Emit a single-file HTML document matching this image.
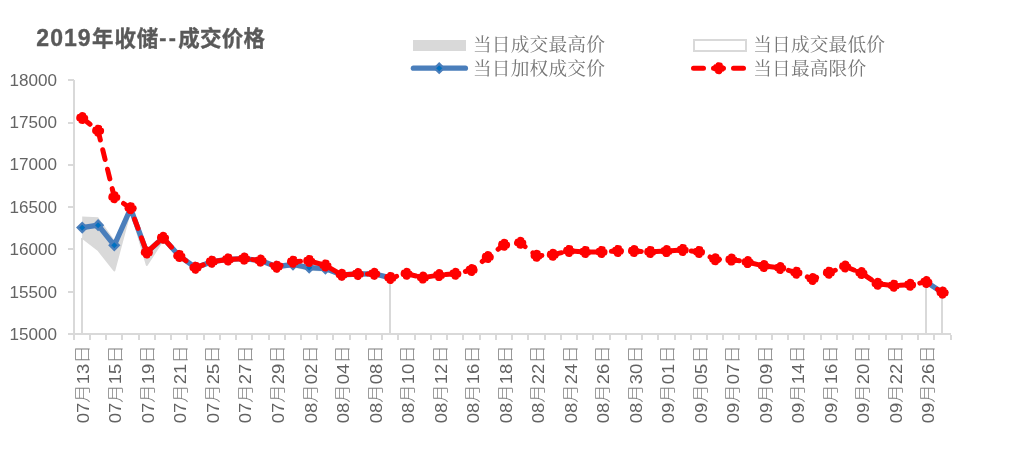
<!DOCTYPE html>
<html lang="zh"><head><meta charset="utf-8"><title>2019年收储--成交价格</title>
<style>html,body{margin:0;padding:0;background:#fff}body{width:1014px;height:452px;overflow:hidden}svg{display:block}text{font-family:"Liberation Sans","Noto Sans CJK SC",sans-serif;fill:#595959}.lg{font-family:"Liberation Serif","Noto Serif CJK SC",serif;font-size:18.67px;letter-spacing:0.2px;fill:#767676}.ax{font-size:17px;fill:#646464}.xl{font-size:16px;font-weight:300;fill:#808080}.d{font-size:16px;font-weight:400;fill:#626262}.tt{font-weight:700;font-size:21.5px;stroke:#595959;stroke-width:0.35px}.cr{shape-rendering:crispEdges;fill:#d9d9d9}</style></head><body>
<svg width="1014" height="452" viewBox="0 0 1014 452">
<rect width="1014" height="452" fill="#fff"/>
<polygon points="82.2,216.4 98.1,217.2 114.3,240.0 130.6,206.5 146.8,251.4 163.0,236.8 179.3,254.9 195.5,266.7 211.8,260.7 228.0,258.4 244.2,257.6 260.5,259.6 276.7,265.7 293.0,263.5 309.2,266.6 325.4,267.5 341.7,273.8 357.9,273.0 374.2,272.8 390.4,276.9 390.4,334.0 82.2,334.0" fill="#d9d9d9"/>
<polygon points="82.2,237.8 98.1,249.9 114.3,270.5 130.6,209.5 146.8,265.0 163.0,240.0 179.3,256.9 195.5,268.7 211.8,262.7 228.0,260.4 244.2,259.6 260.5,261.6 276.7,267.7 293.0,266.5 309.2,269.8 325.4,270.5 341.7,275.8 357.9,275.0 374.2,274.8 390.4,278.9 390.4,334.0 82.2,334.0" fill="#fff"/>
<polyline points="82.2,237.8 98.1,249.9 114.3,270.5 130.6,209.5 146.8,265.0 163.0,240.0 179.3,256.9 195.5,268.7 211.8,262.7 228.0,260.4 244.2,259.6 260.5,261.6 276.7,267.7 293.0,266.5 309.2,269.8 325.4,270.5 341.7,275.8 357.9,275.0 374.2,274.8 390.4,278.9" fill="none" stroke="#d9d9d9" stroke-width="2" stroke-linejoin="round"/>
<g class="cr">
<rect x="73" y="80" width="2" height="255"/>
<rect x="68" y="333" width="883" height="2"/>
<rect x="68" y="79" width="6" height="2"/>
<rect x="68" y="122" width="6" height="2"/>
<rect x="68" y="164" width="6" height="2"/>
<rect x="68" y="206" width="6" height="2"/>
<rect x="68" y="248" width="6" height="2"/>
<rect x="68" y="291" width="6" height="2"/>
<rect x="73" y="335" width="2" height="5"/>
<rect x="89" y="335" width="2" height="5"/>
<rect x="105" y="335" width="2" height="5"/>
<rect x="121" y="335" width="2" height="5"/>
<rect x="138" y="335" width="2" height="5"/>
<rect x="154" y="335" width="2" height="5"/>
<rect x="170" y="335" width="2" height="5"/>
<rect x="186" y="335" width="2" height="5"/>
<rect x="203" y="335" width="2" height="5"/>
<rect x="219" y="335" width="2" height="5"/>
<rect x="235" y="335" width="2" height="5"/>
<rect x="251" y="335" width="2" height="5"/>
<rect x="268" y="335" width="2" height="5"/>
<rect x="284" y="335" width="2" height="5"/>
<rect x="300" y="335" width="2" height="5"/>
<rect x="316" y="335" width="2" height="5"/>
<rect x="332" y="335" width="2" height="5"/>
<rect x="349" y="335" width="2" height="5"/>
<rect x="365" y="335" width="2" height="5"/>
<rect x="381" y="335" width="2" height="5"/>
<rect x="397" y="335" width="2" height="5"/>
<rect x="414" y="335" width="2" height="5"/>
<rect x="430" y="335" width="2" height="5"/>
<rect x="446" y="335" width="2" height="5"/>
<rect x="462" y="335" width="2" height="5"/>
<rect x="479" y="335" width="2" height="5"/>
<rect x="495" y="335" width="2" height="5"/>
<rect x="511" y="335" width="2" height="5"/>
<rect x="527" y="335" width="2" height="5"/>
<rect x="544" y="335" width="2" height="5"/>
<rect x="560" y="335" width="2" height="5"/>
<rect x="576" y="335" width="2" height="5"/>
<rect x="592" y="335" width="2" height="5"/>
<rect x="609" y="335" width="2" height="5"/>
<rect x="625" y="335" width="2" height="5"/>
<rect x="641" y="335" width="2" height="5"/>
<rect x="657" y="335" width="2" height="5"/>
<rect x="674" y="335" width="2" height="5"/>
<rect x="690" y="335" width="2" height="5"/>
<rect x="706" y="335" width="2" height="5"/>
<rect x="722" y="335" width="2" height="5"/>
<rect x="738" y="335" width="2" height="5"/>
<rect x="755" y="335" width="2" height="5"/>
<rect x="771" y="335" width="2" height="5"/>
<rect x="787" y="335" width="2" height="5"/>
<rect x="803" y="335" width="2" height="5"/>
<rect x="820" y="335" width="2" height="5"/>
<rect x="836" y="335" width="2" height="5"/>
<rect x="852" y="335" width="2" height="5"/>
<rect x="868" y="335" width="2" height="5"/>
<rect x="885" y="335" width="2" height="5"/>
<rect x="901" y="335" width="2" height="5"/>
<rect x="917" y="335" width="2" height="5"/>
<rect x="933" y="335" width="2" height="5"/>
<rect x="950" y="335" width="2" height="5"/>
<rect x="81" y="238" width="2" height="95"/>
<rect x="389" y="279" width="2" height="54"/>
<rect x="925" y="282" width="2" height="51"/>
<rect x="941" y="293" width="2" height="40"/>
</g>
<text class="ax" x="57" y="86.0" text-anchor="end" textLength="47.5" lengthAdjust="spacingAndGlyphs">18000</text>
<text class="ax" x="57" y="128.2" text-anchor="end" textLength="47.5" lengthAdjust="spacingAndGlyphs">17500</text>
<text class="ax" x="57" y="170.2" text-anchor="end" textLength="47.5" lengthAdjust="spacingAndGlyphs">17000</text>
<text class="ax" x="57" y="212.9" text-anchor="end" textLength="47.5" lengthAdjust="spacingAndGlyphs">16500</text>
<text class="ax" x="57" y="254.9" text-anchor="end" textLength="47.5" lengthAdjust="spacingAndGlyphs">16000</text>
<text class="ax" x="57" y="297.9" text-anchor="end" textLength="47.5" lengthAdjust="spacingAndGlyphs">15500</text>
<text class="ax" x="57" y="339.9" text-anchor="end" textLength="47.5" lengthAdjust="spacingAndGlyphs">15000</text>
<text class="xl" transform="translate(88.5,423.2) rotate(-90)" textLength="78" lengthAdjust="spacingAndGlyphs"><tspan class="d" dy="0.4">07</tspan><tspan dy="-0.8">月</tspan><tspan class="d" dy="0.8">13</tspan><tspan dy="-0.8">日</tspan></text>
<text class="xl" transform="translate(121.0,423.2) rotate(-90)" textLength="78" lengthAdjust="spacingAndGlyphs"><tspan class="d" dy="0.4">07</tspan><tspan dy="-0.8">月</tspan><tspan class="d" dy="0.8">15</tspan><tspan dy="-0.8">日</tspan></text>
<text class="xl" transform="translate(153.5,423.2) rotate(-90)" textLength="78" lengthAdjust="spacingAndGlyphs"><tspan class="d" dy="0.4">07</tspan><tspan dy="-0.8">月</tspan><tspan class="d" dy="0.8">19</tspan><tspan dy="-0.8">日</tspan></text>
<text class="xl" transform="translate(186.0,423.2) rotate(-90)" textLength="78" lengthAdjust="spacingAndGlyphs"><tspan class="d" dy="0.4">07</tspan><tspan dy="-0.8">月</tspan><tspan class="d" dy="0.8">21</tspan><tspan dy="-0.8">日</tspan></text>
<text class="xl" transform="translate(218.5,423.2) rotate(-90)" textLength="78" lengthAdjust="spacingAndGlyphs"><tspan class="d" dy="0.4">07</tspan><tspan dy="-0.8">月</tspan><tspan class="d" dy="0.8">25</tspan><tspan dy="-0.8">日</tspan></text>
<text class="xl" transform="translate(251.0,423.2) rotate(-90)" textLength="78" lengthAdjust="spacingAndGlyphs"><tspan class="d" dy="0.4">07</tspan><tspan dy="-0.8">月</tspan><tspan class="d" dy="0.8">27</tspan><tspan dy="-0.8">日</tspan></text>
<text class="xl" transform="translate(283.6,423.2) rotate(-90)" textLength="78" lengthAdjust="spacingAndGlyphs"><tspan class="d" dy="0.4">07</tspan><tspan dy="-0.8">月</tspan><tspan class="d" dy="0.8">29</tspan><tspan dy="-0.8">日</tspan></text>
<text class="xl" transform="translate(316.1,423.2) rotate(-90)" textLength="78" lengthAdjust="spacingAndGlyphs"><tspan class="d" dy="0.4">08</tspan><tspan dy="-0.8">月</tspan><tspan class="d" dy="0.8">02</tspan><tspan dy="-0.8">日</tspan></text>
<text class="xl" transform="translate(348.6,423.2) rotate(-90)" textLength="78" lengthAdjust="spacingAndGlyphs"><tspan class="d" dy="0.4">08</tspan><tspan dy="-0.8">月</tspan><tspan class="d" dy="0.8">04</tspan><tspan dy="-0.8">日</tspan></text>
<text class="xl" transform="translate(381.1,423.2) rotate(-90)" textLength="78" lengthAdjust="spacingAndGlyphs"><tspan class="d" dy="0.4">08</tspan><tspan dy="-0.8">月</tspan><tspan class="d" dy="0.8">08</tspan><tspan dy="-0.8">日</tspan></text>
<text class="xl" transform="translate(413.6,423.2) rotate(-90)" textLength="78" lengthAdjust="spacingAndGlyphs"><tspan class="d" dy="0.4">08</tspan><tspan dy="-0.8">月</tspan><tspan class="d" dy="0.8">10</tspan><tspan dy="-0.8">日</tspan></text>
<text class="xl" transform="translate(446.1,423.2) rotate(-90)" textLength="78" lengthAdjust="spacingAndGlyphs"><tspan class="d" dy="0.4">08</tspan><tspan dy="-0.8">月</tspan><tspan class="d" dy="0.8">12</tspan><tspan dy="-0.8">日</tspan></text>
<text class="xl" transform="translate(478.6,423.2) rotate(-90)" textLength="78" lengthAdjust="spacingAndGlyphs"><tspan class="d" dy="0.4">08</tspan><tspan dy="-0.8">月</tspan><tspan class="d" dy="0.8">16</tspan><tspan dy="-0.8">日</tspan></text>
<text class="xl" transform="translate(511.1,423.2) rotate(-90)" textLength="78" lengthAdjust="spacingAndGlyphs"><tspan class="d" dy="0.4">08</tspan><tspan dy="-0.8">月</tspan><tspan class="d" dy="0.8">18</tspan><tspan dy="-0.8">日</tspan></text>
<text class="xl" transform="translate(543.6,423.2) rotate(-90)" textLength="78" lengthAdjust="spacingAndGlyphs"><tspan class="d" dy="0.4">08</tspan><tspan dy="-0.8">月</tspan><tspan class="d" dy="0.8">22</tspan><tspan dy="-0.8">日</tspan></text>
<text class="xl" transform="translate(576.1,423.2) rotate(-90)" textLength="78" lengthAdjust="spacingAndGlyphs"><tspan class="d" dy="0.4">08</tspan><tspan dy="-0.8">月</tspan><tspan class="d" dy="0.8">24</tspan><tspan dy="-0.8">日</tspan></text>
<text class="xl" transform="translate(608.7,423.2) rotate(-90)" textLength="78" lengthAdjust="spacingAndGlyphs"><tspan class="d" dy="0.4">08</tspan><tspan dy="-0.8">月</tspan><tspan class="d" dy="0.8">26</tspan><tspan dy="-0.8">日</tspan></text>
<text class="xl" transform="translate(641.2,423.2) rotate(-90)" textLength="78" lengthAdjust="spacingAndGlyphs"><tspan class="d" dy="0.4">08</tspan><tspan dy="-0.8">月</tspan><tspan class="d" dy="0.8">30</tspan><tspan dy="-0.8">日</tspan></text>
<text class="xl" transform="translate(673.7,423.2) rotate(-90)" textLength="78" lengthAdjust="spacingAndGlyphs"><tspan class="d" dy="0.4">09</tspan><tspan dy="-0.8">月</tspan><tspan class="d" dy="0.8">01</tspan><tspan dy="-0.8">日</tspan></text>
<text class="xl" transform="translate(706.2,423.2) rotate(-90)" textLength="78" lengthAdjust="spacingAndGlyphs"><tspan class="d" dy="0.4">09</tspan><tspan dy="-0.8">月</tspan><tspan class="d" dy="0.8">05</tspan><tspan dy="-0.8">日</tspan></text>
<text class="xl" transform="translate(738.7,423.2) rotate(-90)" textLength="78" lengthAdjust="spacingAndGlyphs"><tspan class="d" dy="0.4">09</tspan><tspan dy="-0.8">月</tspan><tspan class="d" dy="0.8">07</tspan><tspan dy="-0.8">日</tspan></text>
<text class="xl" transform="translate(771.2,423.2) rotate(-90)" textLength="78" lengthAdjust="spacingAndGlyphs"><tspan class="d" dy="0.4">09</tspan><tspan dy="-0.8">月</tspan><tspan class="d" dy="0.8">09</tspan><tspan dy="-0.8">日</tspan></text>
<text class="xl" transform="translate(803.7,423.2) rotate(-90)" textLength="78" lengthAdjust="spacingAndGlyphs"><tspan class="d" dy="0.4">09</tspan><tspan dy="-0.8">月</tspan><tspan class="d" dy="0.8">14</tspan><tspan dy="-0.8">日</tspan></text>
<text class="xl" transform="translate(836.2,423.2) rotate(-90)" textLength="78" lengthAdjust="spacingAndGlyphs"><tspan class="d" dy="0.4">09</tspan><tspan dy="-0.8">月</tspan><tspan class="d" dy="0.8">16</tspan><tspan dy="-0.8">日</tspan></text>
<text class="xl" transform="translate(868.7,423.2) rotate(-90)" textLength="78" lengthAdjust="spacingAndGlyphs"><tspan class="d" dy="0.4">09</tspan><tspan dy="-0.8">月</tspan><tspan class="d" dy="0.8">20</tspan><tspan dy="-0.8">日</tspan></text>
<text class="xl" transform="translate(901.2,423.2) rotate(-90)" textLength="78" lengthAdjust="spacingAndGlyphs"><tspan class="d" dy="0.4">09</tspan><tspan dy="-0.8">月</tspan><tspan class="d" dy="0.8">22</tspan><tspan dy="-0.8">日</tspan></text>
<text class="xl" transform="translate(933.8,423.2) rotate(-90)" textLength="78" lengthAdjust="spacingAndGlyphs"><tspan class="d" dy="0.4">09</tspan><tspan dy="-0.8">月</tspan><tspan class="d" dy="0.8">26</tspan><tspan dy="-0.8">日</tspan></text>
<polyline points="82.2,227.6 98.1,225.2 114.3,245.3 130.6,208.5 146.8,252.4 163.0,237.8 179.3,255.9 195.5,267.7 211.8,261.7 228.0,259.4 244.2,258.6 260.5,260.6 276.7,266.7 293.0,264.5 309.2,267.6 325.4,268.5 341.7,274.8 357.9,274.0 374.2,273.8 390.4,277.9" fill="none" stroke="#4a7ebb" stroke-width="5.3" stroke-linejoin="round" stroke-linecap="round"/>
<polyline points="926.3,282.0 942.6,292.6" fill="none" stroke="#4a7ebb" stroke-width="5.3" stroke-linejoin="round" stroke-linecap="round"/>
<path d="M82.2 223.0l4.6 4.6l-4.6 4.6l-4.6 -4.6z" fill="#0070c0" stroke="#4a7ebb" stroke-width="2.2"/>
<path d="M98.1 220.6l4.6 4.6l-4.6 4.6l-4.6 -4.6z" fill="#0070c0" stroke="#4a7ebb" stroke-width="2.2"/>
<path d="M114.3 240.7l4.6 4.6l-4.6 4.6l-4.6 -4.6z" fill="#0070c0" stroke="#4a7ebb" stroke-width="2.2"/>
<path d="M130.6 203.9l4.6 4.6l-4.6 4.6l-4.6 -4.6z" fill="#0070c0" stroke="#4a7ebb" stroke-width="2.2"/>
<path d="M146.8 247.8l4.6 4.6l-4.6 4.6l-4.6 -4.6z" fill="#0070c0" stroke="#4a7ebb" stroke-width="2.2"/>
<path d="M163.0 233.2l4.6 4.6l-4.6 4.6l-4.6 -4.6z" fill="#0070c0" stroke="#4a7ebb" stroke-width="2.2"/>
<path d="M179.3 251.3l4.6 4.6l-4.6 4.6l-4.6 -4.6z" fill="#0070c0" stroke="#4a7ebb" stroke-width="2.2"/>
<path d="M195.5 263.1l4.6 4.6l-4.6 4.6l-4.6 -4.6z" fill="#0070c0" stroke="#4a7ebb" stroke-width="2.2"/>
<path d="M211.8 257.1l4.6 4.6l-4.6 4.6l-4.6 -4.6z" fill="#0070c0" stroke="#4a7ebb" stroke-width="2.2"/>
<path d="M228.0 254.8l4.6 4.6l-4.6 4.6l-4.6 -4.6z" fill="#0070c0" stroke="#4a7ebb" stroke-width="2.2"/>
<path d="M244.2 254.0l4.6 4.6l-4.6 4.6l-4.6 -4.6z" fill="#0070c0" stroke="#4a7ebb" stroke-width="2.2"/>
<path d="M260.5 256.0l4.6 4.6l-4.6 4.6l-4.6 -4.6z" fill="#0070c0" stroke="#4a7ebb" stroke-width="2.2"/>
<path d="M276.7 262.1l4.6 4.6l-4.6 4.6l-4.6 -4.6z" fill="#0070c0" stroke="#4a7ebb" stroke-width="2.2"/>
<path d="M293.0 259.9l4.6 4.6l-4.6 4.6l-4.6 -4.6z" fill="#0070c0" stroke="#4a7ebb" stroke-width="2.2"/>
<path d="M309.2 263.0l4.6 4.6l-4.6 4.6l-4.6 -4.6z" fill="#0070c0" stroke="#4a7ebb" stroke-width="2.2"/>
<path d="M325.4 263.9l4.6 4.6l-4.6 4.6l-4.6 -4.6z" fill="#0070c0" stroke="#4a7ebb" stroke-width="2.2"/>
<path d="M341.7 270.2l4.6 4.6l-4.6 4.6l-4.6 -4.6z" fill="#0070c0" stroke="#4a7ebb" stroke-width="2.2"/>
<path d="M357.9 269.4l4.6 4.6l-4.6 4.6l-4.6 -4.6z" fill="#0070c0" stroke="#4a7ebb" stroke-width="2.2"/>
<path d="M374.2 269.2l4.6 4.6l-4.6 4.6l-4.6 -4.6z" fill="#0070c0" stroke="#4a7ebb" stroke-width="2.2"/>
<path d="M390.4 273.3l4.6 4.6l-4.6 4.6l-4.6 -4.6z" fill="#0070c0" stroke="#4a7ebb" stroke-width="2.2"/>
<path d="M926.3 277.4l4.6 4.6l-4.6 4.6l-4.6 -4.6z" fill="#0070c0" stroke="#4a7ebb" stroke-width="2.2"/>
<path d="M942.6 288.0l4.6 4.6l-4.6 4.6l-4.6 -4.6z" fill="#0070c0" stroke="#4a7ebb" stroke-width="2.2"/>
<g fill="none" stroke="#ff0000" stroke-width="5" stroke-linejoin="round" stroke-linecap="round">
<polyline points="82.2,118.0 98.1,130.7 114.3,197.2 130.6,208.2 146.8,252.4 163.0,237.8 179.3,255.9 195.5,267.7 211.8,261.7 228.0,259.4 244.2,258.6 260.5,260.6 276.7,266.7 293.0,261.7 309.2,260.9 325.4,265.4 341.7,274.8 357.9,274.0 374.2,273.8 390.4,277.9 406.6,273.8 422.9,277.6 439.1,275.1 455.4,273.8 471.6,270.0 487.8,257.0 504.1,244.8 520.3,242.8 536.6,255.8 552.8,254.8 569.0,250.9 585.3,251.9 601.5,251.9 617.8,250.9 634.0,251.0 650.2,251.9 666.5,251.1 682.7,249.9 699.0,251.9 715.2,259.3 731.4,259.6 747.7,262.1 763.9,266.0 780.2,268.0 796.4,272.7 812.6,279.0 828.9,272.7 845.1,266.5 861.4,273.0 877.6,283.8 893.8,285.7 910.1,284.8 926.3,282.0 942.6,292.6" stroke-dasharray="10 10"/>
<polyline points="845.1,266.5 861.4,273.0 877.6,283.8" stroke-width="4"/>
</g>
<g fill="#ff0000" stroke="#ff0000" stroke-width="4.6" stroke-linecap="round" stroke-dasharray="2.6 3.212" stroke-dashoffset="1.3">
<circle cx="82.2" cy="118.0" r="3.7"/>
<circle cx="98.1" cy="130.7" r="3.7"/>
<circle cx="114.3" cy="197.2" r="3.7"/>
<circle cx="130.6" cy="208.2" r="3.7"/>
<circle cx="146.8" cy="252.4" r="3.7"/>
<circle cx="163.0" cy="237.8" r="3.7"/>
<circle cx="179.3" cy="255.9" r="3.7"/>
<circle cx="195.5" cy="267.7" r="3.7"/>
<circle cx="211.8" cy="261.7" r="3.7"/>
<circle cx="228.0" cy="259.4" r="3.7"/>
<circle cx="244.2" cy="258.6" r="3.7"/>
<circle cx="260.5" cy="260.6" r="3.7"/>
<circle cx="276.7" cy="266.7" r="3.7"/>
<circle cx="293.0" cy="261.7" r="3.7"/>
<circle cx="309.2" cy="260.9" r="3.7"/>
<circle cx="325.4" cy="265.4" r="3.7"/>
<circle cx="341.7" cy="274.8" r="3.7"/>
<circle cx="357.9" cy="274.0" r="3.7"/>
<circle cx="374.2" cy="273.8" r="3.7"/>
<circle cx="390.4" cy="277.9" r="3.7"/>
<circle cx="406.6" cy="273.8" r="3.7"/>
<circle cx="422.9" cy="277.6" r="3.7"/>
<circle cx="439.1" cy="275.1" r="3.7"/>
<circle cx="455.4" cy="273.8" r="3.7"/>
<circle cx="471.6" cy="270.0" r="3.7"/>
<circle cx="487.8" cy="257.0" r="3.7"/>
<circle cx="504.1" cy="244.8" r="3.7"/>
<circle cx="520.3" cy="242.8" r="3.7"/>
<circle cx="536.6" cy="255.8" r="3.7"/>
<circle cx="552.8" cy="254.8" r="3.7"/>
<circle cx="569.0" cy="250.9" r="3.7"/>
<circle cx="585.3" cy="251.9" r="3.7"/>
<circle cx="601.5" cy="251.9" r="3.7"/>
<circle cx="617.8" cy="250.9" r="3.7"/>
<circle cx="634.0" cy="251.0" r="3.7"/>
<circle cx="650.2" cy="251.9" r="3.7"/>
<circle cx="666.5" cy="251.1" r="3.7"/>
<circle cx="682.7" cy="249.9" r="3.7"/>
<circle cx="699.0" cy="251.9" r="3.7"/>
<circle cx="715.2" cy="259.3" r="3.7"/>
<circle cx="731.4" cy="259.6" r="3.7"/>
<circle cx="747.7" cy="262.1" r="3.7"/>
<circle cx="763.9" cy="266.0" r="3.7"/>
<circle cx="780.2" cy="268.0" r="3.7"/>
<circle cx="796.4" cy="272.7" r="3.7"/>
<circle cx="812.6" cy="279.0" r="3.7"/>
<circle cx="828.9" cy="272.7" r="3.7"/>
<circle cx="845.1" cy="266.5" r="3.7"/>
<circle cx="861.4" cy="273.0" r="3.7"/>
<circle cx="877.6" cy="283.8" r="3.7"/>
<circle cx="893.8" cy="285.7" r="3.7"/>
<circle cx="910.1" cy="284.8" r="3.7"/>
<circle cx="926.3" cy="282.0" r="3.7"/>
<circle cx="942.6" cy="292.6" r="3.7"/>
<circle cx="718.8" cy="68.2" r="3.7"/>
</g>
<text class="tt" y="45.8"><tspan x="36.3" style="font-size:23px;letter-spacing:1.05px">2019</tspan><tspan x="92" style="letter-spacing:0.9px">年收储</tspan><tspan x="159.3" dy="-1.3" style="letter-spacing:2.4px">--</tspan><tspan x="178.3" dy="1.3" style="letter-spacing:0.25px">成交价格</tspan></text>
<rect x="413" y="40" width="53" height="11" fill="#d9d9d9"/>
<text class="lg" x="473" y="51">当日成交最高价</text>
<line x1="413.4" y1="68.2" x2="465.4" y2="68.2" stroke="#4a7ebb" stroke-width="5.3" stroke-linecap="round"/>
<path d="M439.2 63.6l4.6 4.6l-4.6 4.6l-4.6 -4.6z" fill="#0070c0" stroke="#4a7ebb" stroke-width="2.2"/>
<text class="lg" x="473" y="75">当日加权成交价</text>
<rect x="694" y="40" width="52" height="11" fill="#fff" stroke="#d9d9d9" stroke-width="2" shape-rendering="crispEdges"/>
<text class="lg" x="753.2" y="51">当日成交最低价</text>
<line x1="693.5" y1="68.2" x2="743.5" y2="68.2" stroke="#ff0000" stroke-width="5" stroke-linecap="round" stroke-dasharray="10 10"/>
<text class="lg" x="753.2" y="75">当日最高限价</text>
</svg></body></html>
